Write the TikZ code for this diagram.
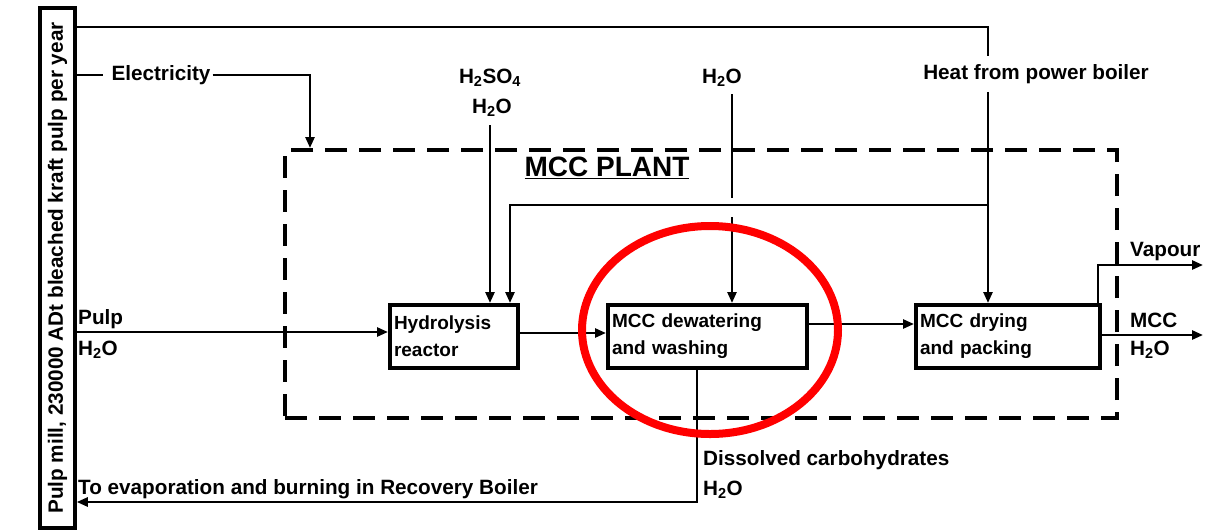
\documentclass[tikz,border=0pt]{standalone}
\usepackage{fontspec}
\setmainfont{Liberation Sans}
\usetikzlibrary{arrows.meta,calc}
\begin{document}
\begin{tikzpicture}[x=1pt,y=-1pt,
  every node/.style={font=\bfseries\fontsize{20.7}{27}\selectfont, inner sep=0pt},
  lbl/.style={anchor=west},
  line/.style={line width=2.5pt},
  flow/.style={line width=2.5pt, -{Triangle[length=11pt,width=9pt]}},
  unit/.style={draw, line width=4pt, minimum height=63pt, inner xsep=4pt, align=left,
    font=\bfseries\fontsize{19}{27}\selectfont},
  boundary/.style={draw, line width=4pt, dash pattern=on 22pt off 12pt, minimum width=832pt, minimum height=268pt},
  ring/.style={draw=red, line width=8pt}
]
\useasboundingbox (0,0) rectangle (1223,531);

% pulp mill
\node[draw, line width=3.5pt, minimum width=35pt, minimum height=520pt] (mill) at (57.5,268) {};
\node[rotate=90] (milltext) at (mill.center) {Pulp mill, 230000 ADt bleached kraft pulp per year};

% plant boundary
\node[boundary] (plant) at (701,284) {};
\node[font=\bfseries\fontsize{28}{30}\selectfont] (plantname) at (607,168) {\underline{MCC PLANT}};

% units
\node[unit, text width=120pt] (hyd) at (454,336.5) {Hydrolysis\\reactor};
\node[unit, text width=191pt] (dew) at (707.5,336.5) {MCC dewatering\\and washing};
\node[unit, text width=176pt] (dry) at (1008,336.5) {MCC drying\\and packing};

% labels
\node[inner xsep=2pt] (elec) at (161,75) {Electricity};
\node[inner ysep=8pt] (heat) at (1036,74) {Heat from power boiler};
\node (h2so4) at (490,78) {H\textsubscript{2}SO\textsubscript{4}};
\node (acidw) at (492,108) {H\textsubscript{2}O};
\node (water) at (722,78) {H\textsubscript{2}O};
\node[lbl] (pulp) at (78,319) {Pulp};
\node[lbl] (pulpw) at (78,350) {H\textsubscript{2}O};
\node[lbl] (vap) at (1130,252) {Vapour};
\node[lbl] (mcc) at (1130,320) {MCC};
\node[lbl] (mccw) at (1130,350) {H\textsubscript{2}O};
\node[lbl] (diss) at (703,460) {Dissolved carbohydrates};
\node[lbl] (dissw) at (703,490) {H\textsubscript{2}O};
\node[lbl] (evap) at (78,489) {To evaporation and burning in Recovery Boiler};

% coordinates
\coordinate (hx) at (988,27);
\coordinate (rec) at (988,205);
\coordinate (ecorner) at (310,75);
\coordinate (ax) at (490,125);
\coordinate (rx) at (510,205);
\coordinate (wx) at (732,94);
\coordinate (wgap1) at (732,198);
\coordinate (wgap2) at (732,217);
\coordinate (dx) at (697,502);
\coordinate (vx) at (1098,265);
\coordinate (outx) at (1203,335);

% heat supply and recycle
\draw[line] (mill.east |- hx) -- (hx) -- (hx |- heat.north);
\draw[flow] (hx |- heat.south) -- (hx |- dry.north);
\draw[flow] (rec) -- (rx) -- (rx |- hyd.north);

% electricity
\draw[line] (mill.east |- elec) -- ([xshift=-6pt]elec.west);
\draw[flow] (elec.east) -- (ecorner) -- (ecorner |- plant.north);

% acid and water
\draw[flow] (ax) -- (ax |- hyd.north);
\draw[line] (wx) -- (wgap1);
\draw[flow] (wgap2) -- (wgap2 |- dew.north);

% main line
\draw[flow] (mill.east |- 0,332) -- (hyd.west |- 0,332);
\draw[flow] (hyd.east |- 0,333) -- (dew.west |- 0,333);
\draw[flow] (dew.east |- 0,324) -- (dry.west |- 0,324);
\draw[flow] (dry.east |- outx) -- (outx);
\draw[flow] (vx |- dry.north) -- (vx) -- (outx |- vx);

% filtrate back to mill
\draw[flow] (dx |- dew.south) -- (dx) -- (mill.east |- dx);

% highlight
\draw[ring] (710,330) ellipse [x radius=128, y radius=104];
\end{tikzpicture}
\end{document}
